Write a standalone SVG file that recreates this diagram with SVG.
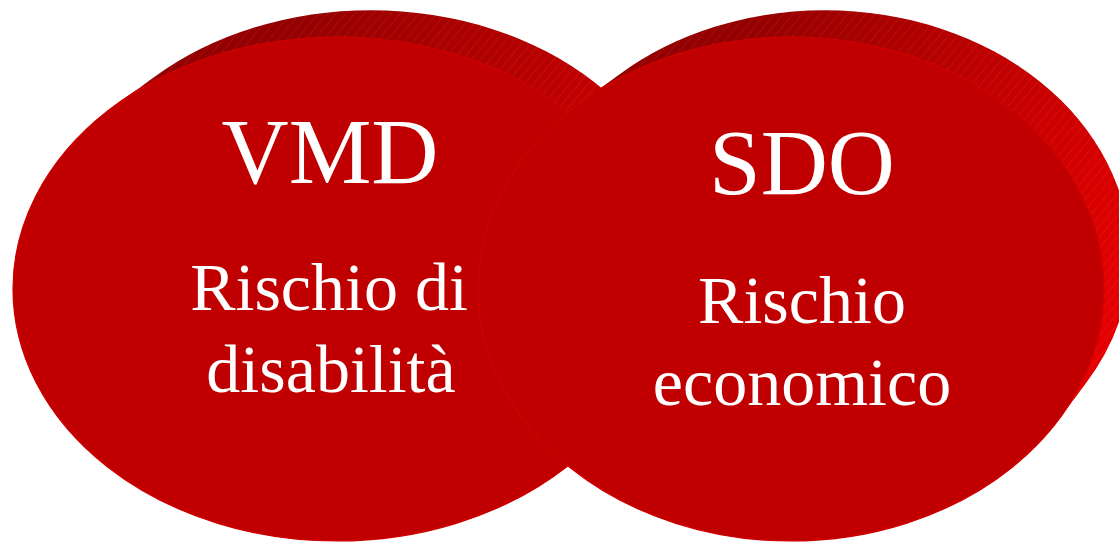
<svg xmlns="http://www.w3.org/2000/svg" width="1119" height="543" viewBox="0 0 1119 543">
  <defs>
    <linearGradient id="extrL" gradientUnits="userSpaceOnUse" x1="300" y1="0" x2="680" y2="270">
      <stop offset="0" stop-color="#940000"/>
      <stop offset="0.55" stop-color="#bc0000"/>
      <stop offset="1" stop-color="#e20000"/>
    </linearGradient>
    <linearGradient id="extrR" gradientUnits="userSpaceOnUse" x1="760" y1="0" x2="1130" y2="270">
      <stop offset="0" stop-color="#940000"/>
      <stop offset="0.55" stop-color="#c40000"/>
      <stop offset="1" stop-color="#e40000"/>
    </linearGradient>
    <pattern id="hatch" patternUnits="userSpaceOnUse" width="7" height="7" patternTransform="rotate(40)">
      <line x1="0" y1="0" x2="0" y2="7" stroke="#ffffff" stroke-width="0.8" stroke-opacity="0.16"/>
    </pattern>
    <!-- swept depth of the left disc: front ellipse interpolated to the receding back ellipse -->
    <clipPath id="clipL">
      <ellipse cx="337" cy="289" rx="324" ry="252"/>
      <ellipse cx="341.3" cy="284.9" rx="323.0" ry="251.2"/>
      <ellipse cx="345.5" cy="280.8" rx="322.0" ry="250.5"/>
      <ellipse cx="349.8" cy="276.6" rx="321.0" ry="249.7"/>
      <ellipse cx="354.0" cy="272.5" rx="320.0" ry="248.9"/>
      <ellipse cx="358.3" cy="268.4" rx="319.0" ry="248.1"/>
      <ellipse cx="362.5" cy="264.3" rx="318.0" ry="247.4"/>
      <ellipse cx="366.8" cy="260.1" rx="317.0" ry="246.6"/>
      <ellipse cx="371" cy="256" rx="316" ry="245.8"/>
    </clipPath>
    <clipPath id="clipR">
      <ellipse cx="791" cy="289" rx="313" ry="252"/>
      <ellipse cx="795.3" cy="284.9" rx="312.0" ry="251.2"/>
      <ellipse cx="799.5" cy="280.8" rx="311.0" ry="250.5"/>
      <ellipse cx="803.8" cy="276.6" rx="310.0" ry="249.7"/>
      <ellipse cx="808.0" cy="272.5" rx="309.0" ry="248.9"/>
      <ellipse cx="812.3" cy="268.4" rx="308.0" ry="248.1"/>
      <ellipse cx="816.5" cy="264.3" rx="307.0" ry="247.4"/>
      <ellipse cx="820.8" cy="260.1" rx="306.0" ry="246.6"/>
      <ellipse cx="825" cy="256" rx="305" ry="245.8"/>
    </clipPath>
  </defs>
  <style>
    .face { fill: #c00000; stroke: #d00000; stroke-width: 1.2; }
    .title { font-family: "Liberation Serif", "Times New Roman", serif; font-size: 93px; fill: #ffffff; text-anchor: middle; }
    .sub { font-family: "Liberation Serif", "Times New Roman", serif; font-size: 68px; fill: #ffffff; text-anchor: middle; }
  </style>

  <!-- extrusions (3D depth) -->
  <g id="vmd-depth">
    <rect x="0" y="0" width="700" height="543" fill="url(#extrL)" clip-path="url(#clipL)"/>
    <rect x="0" y="0" width="700" height="543" fill="url(#hatch)" clip-path="url(#clipL)"/>
  </g>
  <g id="sdo-depth">
    <rect x="460" y="0" width="680" height="543" fill="url(#extrR)" clip-path="url(#clipR)"/>
    <rect x="460" y="0" width="680" height="543" fill="url(#hatch)" clip-path="url(#clipR)"/>
  </g>

  <!-- front faces -->
  <g id="vmd">
    <ellipse class="face" cx="337" cy="289" rx="324" ry="252"/>
  </g>
  <g id="sdo">
    <ellipse class="face" cx="791" cy="289" rx="313" ry="252"/>
  </g>

  <g id="labels">
    <text class="title" x="330" y="183">VMD</text>
    <text class="sub" x="329" y="310">Rischio di</text>
    <text class="sub" x="331" y="392">disabilità</text>
    <text class="title" x="802" y="194">SDO</text>
    <text class="sub" x="802" y="323">Rischio</text>
    <text class="sub" x="802" y="405">economico</text>
  </g>
</svg>
